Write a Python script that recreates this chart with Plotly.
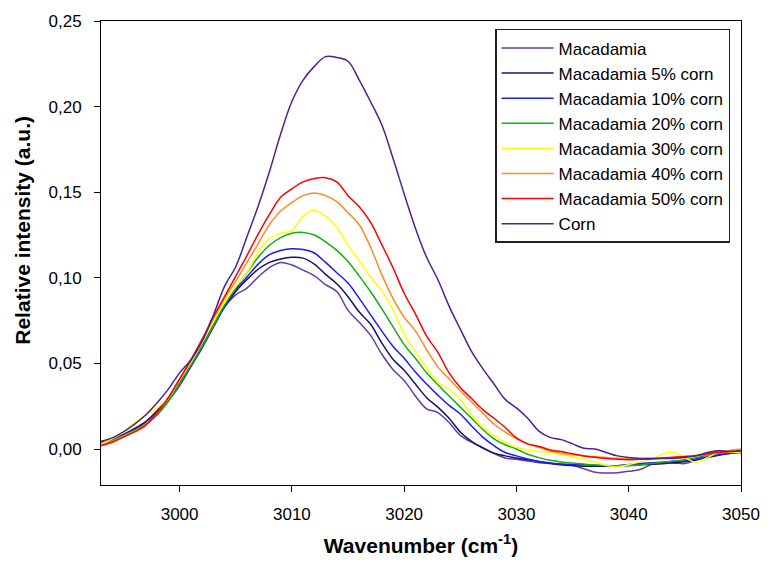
import plotly.graph_objects as go

wavenumber = list(range(2993, 3051))

macadamia = [0.0035, 0.005, 0.008, 0.0115, 0.016, 0.0225, 0.030, 0.040, 0.050, 0.061,
             0.073, 0.083, 0.090, 0.094, 0.1005, 0.106, 0.109, 0.1075, 0.1045, 0.1013,
             0.096, 0.092, 0.081, 0.074, 0.0665, 0.0555, 0.0465, 0.040, 0.031, 0.0235,
             0.0213, 0.0155, 0.008, 0.004, 0.001, -0.0025, -0.0052, -0.006, -0.007, -0.008,
             -0.0085, -0.009, -0.0095, -0.0115, -0.0135, -0.014, -0.0138, -0.013, -0.012, -0.009,
             -0.0082, -0.0081, -0.0085, -0.0065, -0.003, -0.001, -0.0015, -0.002]
mac_5 = [0.004, 0.0055, 0.0085, 0.012, 0.016, 0.022, 0.030, 0.039, 0.049, 0.060,
         0.072, 0.083, 0.092, 0.099, 0.105, 0.109, 0.111, 0.112, 0.1115, 0.108,
         0.102, 0.0965, 0.089, 0.080, 0.073, 0.062, 0.0525, 0.046, 0.038, 0.030,
         0.0245, 0.018, 0.010, 0.0045, 0.0005, -0.0025, -0.004, -0.0052, -0.0062, -0.0073,
         -0.0083, -0.0092, -0.0097, -0.010, -0.010, -0.010, -0.0097, -0.0094, -0.0091, -0.0089,
         -0.0086, -0.008, -0.0074, -0.0064, -0.005, -0.0037, -0.0026, -0.002]
mac_10 = [0.003, 0.005, 0.008, 0.011, 0.0145, 0.020, 0.028, 0.037, 0.048, 0.059,
          0.071, 0.083, 0.093, 0.1005, 0.108, 0.1135, 0.116, 0.117, 0.1165, 0.1145,
          0.109, 0.103, 0.097, 0.088, 0.0785, 0.069, 0.060, 0.053, 0.045, 0.038,
          0.0315, 0.0255, 0.0205, 0.0135, 0.007, 0.002, -0.002, -0.004, -0.0058, -0.0073,
          -0.0082, -0.0087, -0.009, -0.0092, -0.0095, -0.0098, -0.0098, -0.009, -0.0085, -0.008,
          -0.0077, -0.0072, -0.0068, -0.0058, -0.0045, -0.0033, -0.0025, -0.002]
mac_20 = [0.003, 0.005, 0.008, 0.011, 0.0145, 0.020, 0.028, 0.038, 0.049, 0.060,
          0.072, 0.084, 0.094, 0.103, 0.112, 0.119, 0.1235, 0.126, 0.1265, 0.125,
          0.121, 0.116, 0.1095, 0.101, 0.092, 0.082, 0.0715, 0.061, 0.053, 0.0445,
          0.0375, 0.031, 0.0245, 0.018, 0.0115, 0.006, 0.0025, 0.0, -0.003, -0.005,
          -0.0065, -0.0075, -0.0082, -0.0088, -0.0093, -0.0096, -0.0098, -0.0098, -0.0093, -0.0085,
          -0.0077, -0.007, -0.0062, -0.005, -0.0035, -0.0025, -0.0018, -0.0015]
mac_30 = [0.003, 0.006, 0.010, 0.0155, 0.020, 0.024, 0.030, 0.040, 0.0505, 0.062,
          0.074, 0.086, 0.095, 0.103, 0.115, 0.123, 0.126, 0.1275, 0.136, 0.1395,
          0.136, 0.1295, 0.119, 0.110, 0.1005, 0.0925, 0.0815, 0.067, 0.057, 0.0475,
          0.039, 0.035, 0.029, 0.020, 0.0125, 0.008, 0.004, 0.001, -0.0005, -0.0015,
          -0.0022, -0.003, -0.0045, -0.006, -0.0075, -0.0095, -0.0105, -0.009, -0.0075, -0.006,
          -0.003, -0.0018, -0.005, -0.0078, -0.005, -0.002, -0.0018, -0.002]
mac_40 = [0.0025, 0.0045, 0.0075, 0.0105, 0.0145, 0.021, 0.030, 0.0405, 0.0515, 0.063,
          0.076, 0.088, 0.098, 0.109, 0.120, 0.131, 0.139, 0.144, 0.148, 0.1495,
          0.148, 0.1445, 0.138, 0.131, 0.118, 0.102, 0.088, 0.077, 0.069, 0.058,
          0.048, 0.041, 0.034, 0.0275, 0.021, 0.0145, 0.010, 0.006, 0.003, 0.001,
          -0.0012, -0.0025, -0.0033, -0.0039, -0.0045, -0.005, -0.0054, -0.0055, -0.0055, -0.0054,
          -0.0051, -0.0049, -0.0047, -0.004, -0.003, -0.0018, -0.0008, 0.0]
mac_50 = [0.002, 0.004, 0.007, 0.010, 0.014, 0.021, 0.030, 0.041, 0.052, 0.064,
          0.077, 0.089, 0.101, 0.113, 0.1255, 0.137, 0.147, 0.152, 0.156, 0.158,
          0.1585, 0.156, 0.148, 0.1415, 0.1325, 0.1195, 0.106, 0.091, 0.079, 0.066,
          0.0565, 0.0445, 0.036, 0.0295, 0.023, 0.018, 0.0126, 0.0065, 0.003, 0.0015,
          -0.0005, -0.0015, -0.0028, -0.004, -0.0048, -0.0055, -0.006, -0.0062, -0.006, -0.0058,
          -0.0053, -0.0048, -0.0043, -0.0037, -0.0028, -0.002, -0.0015, -0.001]
corn = [0.0045, 0.0065, 0.010, 0.0145, 0.020, 0.027, 0.035, 0.0445, 0.052, 0.063,
        0.078, 0.095, 0.1065, 0.124, 0.142, 0.162, 0.184, 0.203, 0.2155, 0.2235,
        0.2292, 0.2287, 0.2265, 0.2155, 0.203, 0.1895, 0.170, 0.149, 0.129, 0.112,
        0.099, 0.0835, 0.070, 0.057, 0.047, 0.038, 0.029, 0.024, 0.018, 0.0105,
        0.0068, 0.0055, 0.003, 0.0005, 0.0, -0.002, -0.004, -0.005, -0.0055, -0.0055,
        -0.0055, -0.0055, -0.005, -0.004, -0.002, -0.001, -0.0015, -0.001]

series_names = ["Macadamia", "Macadamia 5% corn", "Macadamia 10% corn", "Macadamia 20% corn",
                "Macadamia 30% corn", "Macadamia 40% corn", "Macadamia 50% corn", "Corn"]
series_values = [macadamia, mac_5, mac_10, mac_20, mac_30, mac_40, mac_50, corn]
series_colors = ["#6a3a9e", "#141470", "#1a1aff", "#10b010", "#ffff00", "#ff8c1a", "#ff0000", "#4e2090"]

y_tickvals = [0.0, 0.05, 0.10, 0.15, 0.20, 0.25]
y_ticktext = ["0,00", "0,05", "0,10", "0,15", "0,20", "0,25"]
x_tickvals = [3000, 3010, 3020, 3030, 3040, 3050]

FONT = "Liberation Sans, Arial, sans-serif"

fig = go.Figure()
for name, vals, col in zip(series_names, series_values, series_colors):
    fig.add_trace(go.Scatter(x=wavenumber, y=vals, mode="lines", name=name,
                             line=dict(color=col, width=1.5, shape="spline", smoothing=1)))

fig.update_layout(
    width=772, height=565,
    margin=dict(l=101, r=24, t=17, b=80),
    paper_bgcolor="white", plot_bgcolor="white",
    font=dict(family=FONT, size=17, color="black"),
    showlegend=True,
    legend=dict(x=0.983, y=0.983, xanchor="right", yanchor="top",
                bgcolor="white", bordercolor="#222222", borderwidth=1.5,
                font=dict(family=FONT, size=17, color="black"),
                itemwidth=52, tracegroupgap=0),
    annotations=[dict(text="<b>Relative intensity (a.u.)</b>", textangle=-90,
                      xref="paper", yref="paper", x=-0.122, y=0.55,
                      xanchor="center", yanchor="middle", showarrow=False,
                      font=dict(family=FONT, size=21, color="black"))],
)
fig.update_xaxes(range=[2993, 3050], tickvals=x_tickvals, ticks="outside", ticklen=6,
                 tickcolor="black", showline=True, linecolor="black", linewidth=1,
                 mirror=True, showgrid=False, zeroline=False,
                 tickfont=dict(size=17), ticklabelstandoff=8,
                 title=dict(text="<b>Wavenumber (cm<sup>-1</sup>)</b>", font=dict(size=21), standoff=14))
fig.update_yaxes(range=[-0.021, 0.25], tickvals=y_tickvals, ticktext=y_ticktext, ticks="outside",
                 ticklen=6, tickcolor="black", showline=True, linecolor="black", linewidth=1,
                 mirror=True, showgrid=False, zeroline=False,
                 tickfont=dict(size=17), ticklabelstandoff=9)

fig.write_html("out.html")
